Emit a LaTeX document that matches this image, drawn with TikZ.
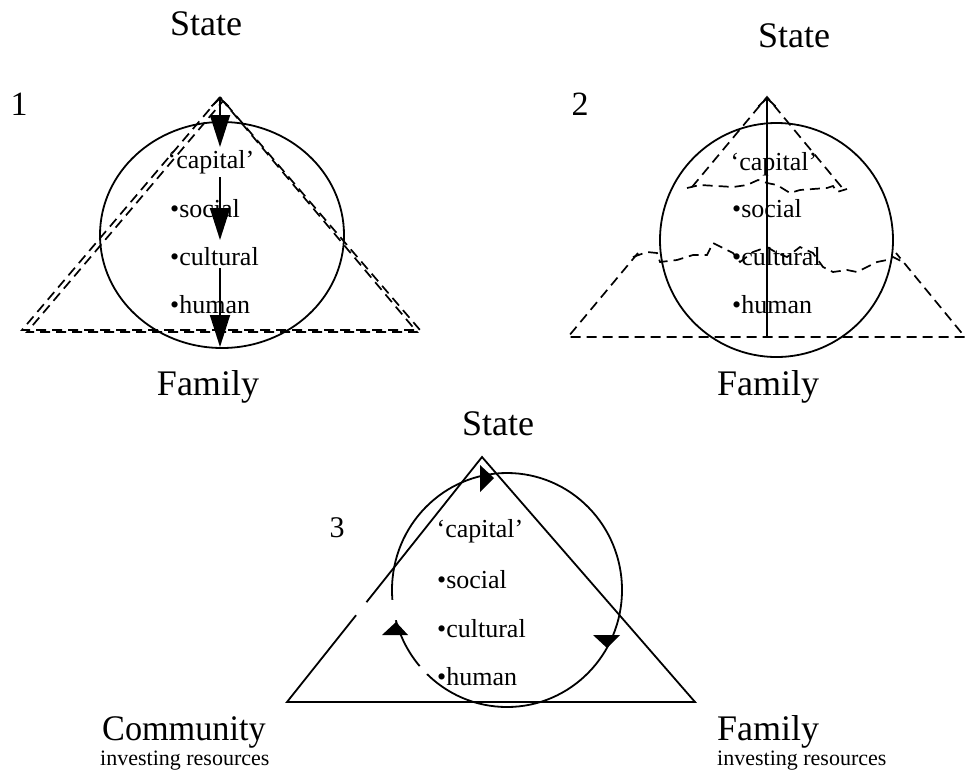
\documentclass[tikz,border=0pt]{standalone}
\usepackage{fontspec}
\setmainfont{Liberation Serif}
\usetikzlibrary{arrows.meta}
\tikzset{
  bigtxt/.style={font=\fontsize{36}{40}\selectfont, inner sep=0pt},
  numlab/.style={font=\fontsize{34}{40}\selectfont, inner sep=0pt},
  captxt/.style={font=\fontsize{26}{30}\selectfont, inner sep=0pt},
  subtxt/.style={font=\fontsize{22}{26}\selectfont, inner sep=0pt},
  ln/.style={line width=1.8pt},
  dsh/.style={line width=1.7pt, dash pattern=on 10pt off 6pt},
  headtip/.style={-{Triangle[length=32pt,width=20pt]}},
  opentip/.style={{Straight Barb[length=8pt,width=17pt]}-},
  gapline/.style={white, line width=4pt}
}
\begin{document}
\begin{tikzpicture}[x=1pt,y=-1pt]
\useasboundingbox (0,0) rectangle (966,769);

% ---------------- Panel 1 ----------------
\node[bigtxt, anchor=base] (st1) at (206,35) {State};
\node[numlab, anchor=base] (n1) at (19,115) {1};
\node[bigtxt, anchor=base] (fa1) at (208,395) {Family};
\draw[ln] (222,235) ellipse [x radius=122, y radius=113];
\draw[dsh] (220,97) -- (22,330) -- (420,330) -- cycle;
\draw[dsh, dash phase=4pt] (223,101) -- (27,332) -- (417,332) -- cycle;
\node[captxt, anchor=base] (c1) at (211,168) {‘capital’};
\node[captxt, anchor=base west] (so1) at (170,217) {•social};
\node[captxt, anchor=base west] (cu1) at (170,265) {•cultural};
\node[captxt, anchor=base west] (hu1) at (170,313) {•human};
\coordinate (a1t) at (220,97);
\coordinate (a1h) at (220,147);
\coordinate (b1s) at (220,177);
\coordinate (b1h) at (220,240);
\coordinate (c1s) at (220,268);
\coordinate (c1h) at (220,347);
\draw[ln, opentip] (a1t) -- (220,113);
\draw[ln, headtip] (220,110) -- (a1h);
\draw[ln, headtip] (b1s) -- (b1h);
\draw[ln, headtip] (c1s) -- (c1h);

% ---------------- Panel 2 ----------------
\node[bigtxt, anchor=base] (st2) at (794,47) {State};
\node[numlab, anchor=base] (n2) at (580,115) {2};
\node[bigtxt, anchor=base] (fa2) at (768,395) {Family};
\draw[ln] (776.5,240) ellipse [x radius=116.5, y radius=117];
\coordinate (ap2) at (767,97);
\coordinate (bs2) at (767,337);
\draw[dsh] (692,187) -- (ap2) -- (844,190);
\draw[dsh] (638,253) -- (568,337) -- (965,337) -- (896,253);
\draw[dsh] (687,188) -- (700,185) -- (717,186) -- (733,187) -- (747,185) -- (758,180)
  -- (767,183) -- (777,185) -- (790,193) -- (800,190) -- (813,189) -- (827,188)
  -- (833,186) -- (837,192) -- (847,189);
\draw[dsh] (633,257) -- (647,252) -- (657,253) -- (660,262) -- (677,260) -- (693,255)
  -- (707,255) -- (713,243) -- (727,250) -- (733,253) -- (740,262) -- (753,252)
  -- (767,247) -- (777,253) -- (787,257) -- (800,247) -- (813,253) -- (823,267)
  -- (833,272) -- (847,270) -- (857,272) -- (867,267) -- (877,262) -- (887,260)
  -- (893,257) -- (903,262);
\draw[ln, opentip] (ap2) -- (bs2);
\node[captxt, anchor=base] (c2) at (774,170) {‘capital’};
\node[captxt, anchor=base west] (so2) at (732,217) {•social};
\node[captxt, anchor=base west] (cu2) at (732,265) {•cultural};
\node[captxt, anchor=base west] (hu2) at (732,313) {•human};

% ---------------- Panel 3 ----------------
\node[bigtxt, anchor=base] (st3) at (498,435) {State};
\node[numlab, anchor=base, font=\fontsize{30}{36}\selectfont] (n3) at (337,537) {3};
\coordinate (ap3) at (482,457);
\coordinate (bl3) at (287,702);
\coordinate (br3) at (695,702);
\draw[ln] (ap3) -- (bl3) -- (br3) -- cycle;
\draw[ln] (507,590) ellipse [x radius=115, y radius=117];
\draw[gapline] (356,615) -- (366,602);
\draw[gapline] (392.3,600) -- (393.5,610) -- (396,620);
\draw[gapline] (420,666) -- (427,674);
\fill (480,465) -- (480,492) -- (494,478) -- cycle;
\fill (382,635) -- (408,635) -- (396,622) -- cycle;
\fill (593,635) -- (620,635) -- (607,648) -- cycle;
\node[captxt, anchor=base] (c3) at (480,537) {‘capital’};
\node[captxt, anchor=base west] (so3) at (437,588) {•social};
\node[captxt, anchor=base west] (cu3) at (437,637) {•cultural};
\node[captxt, anchor=base west] (hu3) at (437,685) {•human};

\node[bigtxt, anchor=base west, xscale=0.95] (co) at (102,740) {Community};
\node[subtxt, anchor=base west] (ir1) at (100,765) {investing resources};
\node[bigtxt, anchor=base west] (fa3) at (717,740) {Family};
\node[subtxt, anchor=base west] (ir2) at (717,765) {investing resources};
\end{tikzpicture}
\end{document}
